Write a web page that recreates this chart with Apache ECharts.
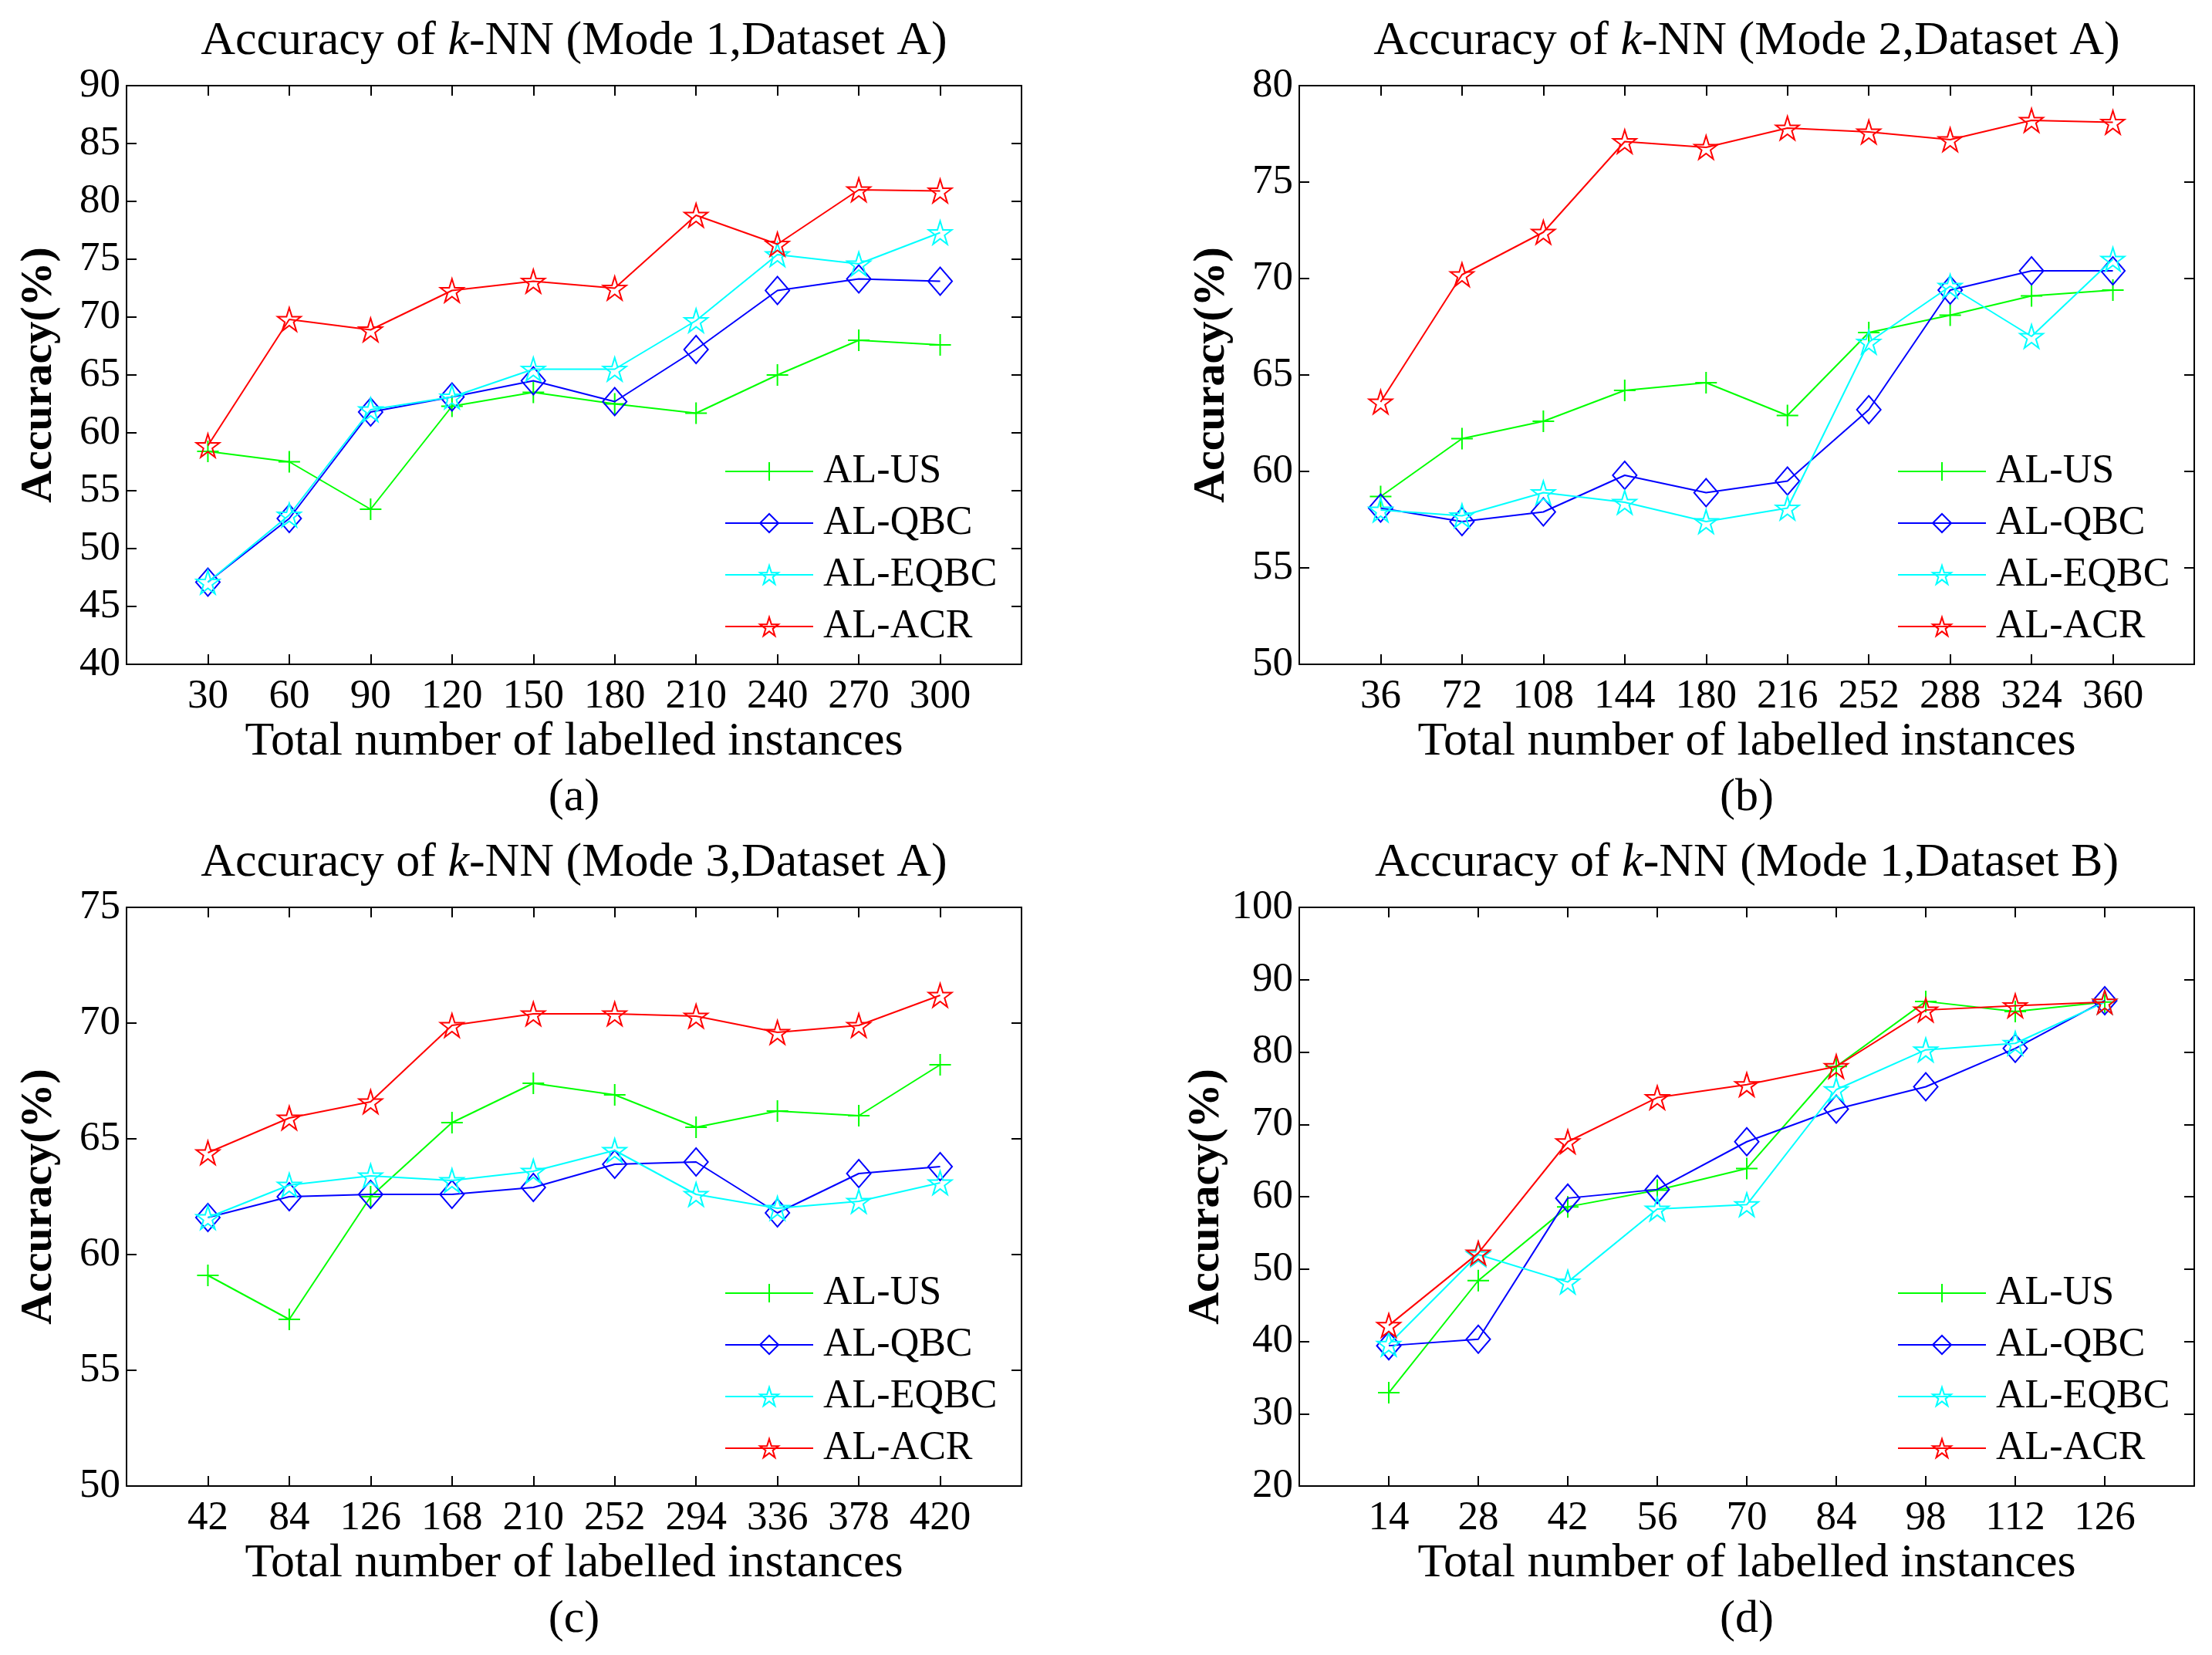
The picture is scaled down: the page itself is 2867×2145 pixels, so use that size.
<!DOCTYPE html>
<html>
<head>
<meta charset="utf-8">
<script src="https://cdn.jsdelivr.net/npm/echarts@6/dist/echarts.min.js"></script>
<style>
html,body{margin:0;padding:0;background:#fff;}
#main{width:2867px;height:2145px;}
</style>
</head>
<body>
<div id="main"></div>
<script>
// ---------- data ----------
const seriesNames = ['AL-US', 'AL-QBC', 'AL-EQBC', 'AL-ACR'];

// Panel (a): Mode 1, Dataset A
const xA = [30, 60, 90, 120, 150, 180, 210, 240, 270, 300];
const usA   = [58.4, 57.5, 53.4, 62.3, 63.5, 62.5, 61.7, 65.0, 68.0, 67.6];
const qbcA  = [47.1, 52.6, 61.8, 63.1, 64.5, 62.7, 67.2, 72.3, 73.3, 73.1];
const eqbcA = [47.1, 52.9, 62.0, 63.1, 65.5, 65.5, 69.7, 75.4, 74.6, 77.3];
const acrA  = [58.9, 69.8, 68.9, 72.3, 73.1, 72.5, 78.8, 76.3, 81.0, 80.9];

// Panel (b): Mode 2, Dataset A
const xB = [36, 72, 108, 144, 180, 216, 252, 288, 324, 360];
const usB   = [58.7, 61.7, 62.6, 64.2, 64.6, 62.9, 67.2, 68.1, 69.1, 69.4];
const qbcB  = [58.1, 57.4, 57.9, 59.8, 58.9, 59.5, 63.2, 69.4, 70.4, 70.4];
const eqbcB = [58.0, 57.7, 58.9, 58.4, 57.4, 58.1, 66.7, 69.6, 67.0, 71.0];
const acrB  = [63.6, 70.2, 72.4, 77.1, 76.8, 77.8, 77.6, 77.2, 78.2, 78.1];

// Panel (c): Mode 3, Dataset A
const xC = [42, 84, 126, 168, 210, 252, 294, 336, 378, 420];
const usC   = [59.1, 57.2, 62.5, 65.7, 67.4, 66.9, 65.5, 66.2, 66.0, 68.2];
const qbcC  = [61.6, 62.5, 62.6, 62.6, 62.9, 63.9, 64.0, 61.8, 63.5, 63.8];
const eqbcC = [61.6, 63.0, 63.4, 63.2, 63.6, 64.5, 62.6, 62.0, 62.3, 63.1];
const acrC  = [64.4, 65.9, 66.6, 69.9, 70.4, 70.4, 70.3, 69.6, 69.9, 71.2];

// Panel (d): Mode 1, Dataset B
const xD = [14, 28, 42, 56, 70, 84, 98, 112, 126];
const usD   = [32.9, 48.4, 58.6, 60.9, 63.9, 78.0, 87.0, 85.6, 86.9];
const qbcD  = [39.4, 40.3, 59.8, 61.0, 67.6, 72.1, 75.2, 80.5, 87.1];
const eqbcD = [39.6, 52.0, 48.2, 58.3, 58.9, 74.8, 80.3, 81.2, 86.9];
const acrD  = [42.2, 52.2, 67.6, 73.7, 75.5, 78.0, 85.8, 86.4, 86.9];

// axis ticks
const yTicksA = [40, 45, 50, 55, 60, 65, 70, 75, 80, 85, 90];
const yTicksB = [50, 55, 60, 65, 70, 75, 80];
const yTicksC = [50, 55, 60, 65, 70, 75];
const yTicksD = [20, 30, 40, 50, 60, 70, 80, 90, 100];

const titles = [
  ['Accuracy of ', 'k', '-NN (Mode 1,Dataset A)'],
  ['Accuracy of ', 'k', '-NN (Mode 2,Dataset A)'],
  ['Accuracy of ', 'k', '-NN (Mode 3,Dataset A)'],
  ['Accuracy of ', 'k', '-NN (Mode 1,Dataset B)']
];
const subLabels = ['(a)', '(b)', '(c)', '(d)'];
const xAxisName = 'Total number of labelled instances';
const yAxisName = 'Accuracy(%)';

// ---------- styling ----------
const FONT = "'Liberation Serif', 'Times New Roman', serif";
const colors = ['#00ff00', '#0000ff', '#00ffff', '#ff0000'];
const plusPath = 'path://M0,-10L0,10M-10,0L10,0';
const diamondPath = 'path://M0,-10L8.5,0L0,10L-8.5,0Z';
const starPath = 'path://M0,-10L2.245,-3.09L9.51,-3.09L3.633,1.18L5.878,8.09L0,3.82L-5.878,8.09L-3.633,1.18L-9.51,-3.09L-2.245,-3.09Z';
const symbols = [plusPath, diamondPath, starPath, starPath];
const symbolSizes = [[28, 28], [31, 36], [30, 30], [30, 30]];

const panels = [
  {x: xA, ys: [usA, qbcA, eqbcA, acrA], xStep: 30, yTicks: yTicksA, yStep: 5},
  {x: xB, ys: [usB, qbcB, eqbcB, acrB], xStep: 36, yTicks: yTicksB, yStep: 5},
  {x: xC, ys: [usC, qbcC, eqbcC, acrC], xStep: 42, yTicks: yTicksC, yStep: 5},
  {x: xD, ys: [usD, qbcD, eqbcD, acrD], xStep: 14, yTicks: yTicksD, yStep: 10}
];

const gridPos = [
  {left: 164, top: 111},
  {left: 1684, top: 111},
  {left: 164, top: 1176},
  {left: 1684, top: 1176}
];
const GW = 1160, GH = 750;

const grids = [], xAxes = [], yAxes = [], series = [], legends = [], titleComps = [];

panels.forEach((p, i) => {
  const g = gridPos[i];
  grids.push({left: g.left, top: g.top, width: GW, height: GH});
  const xmax = p.x[p.x.length - 1] + p.xStep;
  const ymin = p.yTicks[0], ymax = p.yTicks[p.yTicks.length - 1];
  const lineStyle = {color: '#000', width: 2};
  const tick = {show: true, inside: true, length: 13, lineStyle: {color: '#000', width: 2}};
  xAxes.push({
    gridIndex: i, type: 'value', position: 'bottom', min: 0, max: xmax, interval: p.xStep,
    axisLine: {show: true, onZero: false, lineStyle},
    axisTick: tick,
    splitLine: {show: false},
    axisLabel: {
      show: true, margin: 16, color: '#000', fontFamily: FONT, fontSize: 53,
      formatter: v => (p.x.indexOf(v) >= 0 ? String(v) : '')
    },
    name: xAxisName, nameLocation: 'middle', nameGap: 70,
    nameTextStyle: {color: '#000', fontFamily: FONT, fontSize: 62}
  });
  xAxes.push({
    gridIndex: i, type: 'value', position: 'top', min: 0, max: xmax, interval: p.xStep,
    axisLine: {show: true, onZero: false, lineStyle},
    axisTick: tick, splitLine: {show: false}, axisLabel: {show: false}
  });
  yAxes.push({
    gridIndex: i, type: 'value', position: 'left', min: ymin, max: ymax, interval: p.yStep,
    axisLine: {show: true, onZero: false, lineStyle},
    axisTick: tick, splitLine: {show: false},
    axisLabel: {show: true, margin: 8, color: '#000', fontFamily: FONT, fontSize: 53},
    name: yAxisName, nameLocation: 'middle', nameGap: 84, nameRotate: 90,
    nameTextStyle: {color: '#000', fontFamily: FONT, fontSize: 58, fontWeight: 'bold'}
  });
  yAxes.push({
    gridIndex: i, type: 'value', position: 'right', min: ymin, max: ymax, interval: p.yStep,
    axisLine: {show: true, onZero: false, lineStyle},
    axisTick: tick, splitLine: {show: false}, axisLabel: {show: false}
  });
  p.ys.forEach((vals, k) => {
    series.push({
      name: seriesNames[k], type: 'line',
      xAxisIndex: 2 * i, yAxisIndex: 2 * i,
      data: p.x.map((xv, j) => [xv, vals[j]]),
      symbol: symbols[k], symbolSize: symbolSizes[k], showAllSymbol: true,
      color: colors[k],
      lineStyle: {color: colors[k], width: 2},
      itemStyle: {color: 'rgba(255,255,255,0)', borderColor: colors[k], borderWidth: 2},
      emphasis: {disabled: true},
      animation: false, z: 2 + k
    });
  });
  legends.push({
    orient: 'vertical', left: g.left + 770, top: g.top + 469,
    itemWidth: 114, itemHeight: 30, itemGap: 15,
    data: seriesNames, selectedMode: false,
    textStyle: {color: '#000', fontFamily: FONT, fontSize: 52, lineHeight: 50, padding: [0, 0, 0, 8]}
  });
  const cx = g.left + GW / 2;
  const t = titles[i];
  titleComps.push({
    text: '{n|' + t[0] + '}{i|' + t[1] + '}{n|' + t[2] + '}',
    left: cx, top: g.top - 88, textAlign: 'center', padding: 0,
    textStyle: {
      fontWeight: 'normal', fontFamily: FONT,
      rich: {
        n: {fontFamily: FONT, fontSize: 62, color: '#000', fontWeight: 'normal'},
        i: {fontFamily: FONT, fontSize: 62, color: '#000', fontStyle: 'italic', fontWeight: 'normal'}
      }
    }
  });
  titleComps.push({
    text: subLabels[i], left: cx, top: g.top + 893, textAlign: 'center', padding: 0,
    textStyle: {fontFamily: FONT, fontSize: 60, color: '#000', fontWeight: 'normal'}
  });
});

const chart = echarts.init(document.getElementById('main'), null, {renderer: 'canvas'});
chart.setOption({
  backgroundColor: '#fff',
  animation: false,
  textStyle: {fontFamily: FONT},
  title: titleComps,
  grid: grids,
  xAxis: xAxes,
  yAxis: yAxes,
  legend: legends,
  series: series
});
</script>
</body>
</html>
